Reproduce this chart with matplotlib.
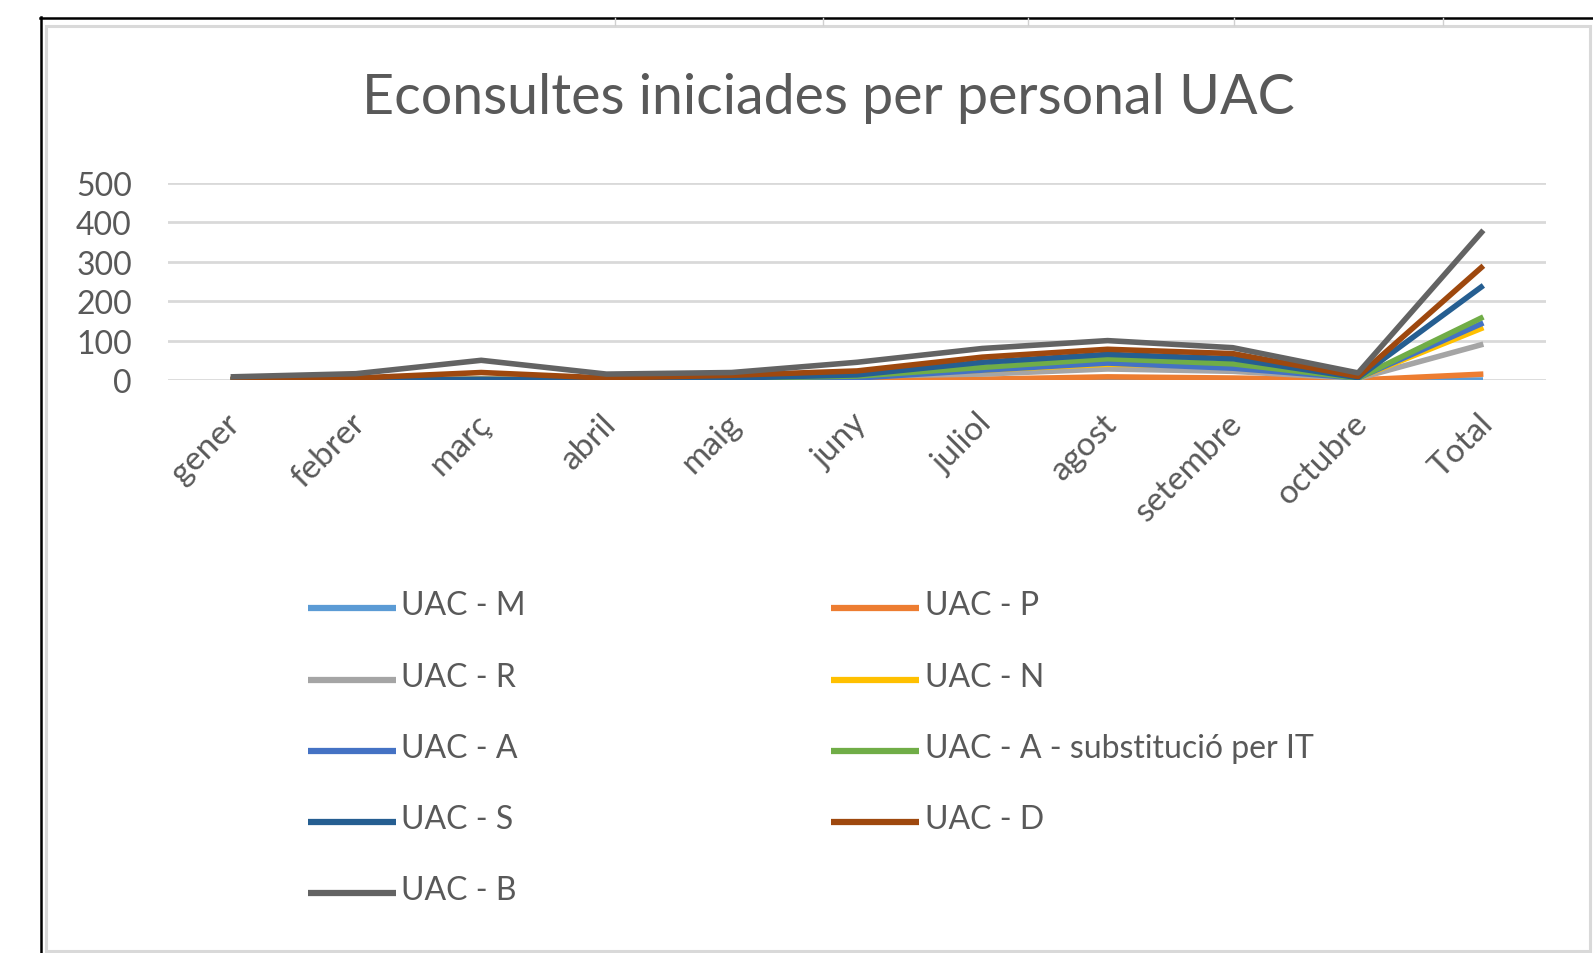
import matplotlib
matplotlib.use("Agg")
import matplotlib.pyplot as plt
from matplotlib.lines import Line2D
from matplotlib.patches import Rectangle
import matplotlib.transforms as mtransforms

# ---------------- data ----------------
months = ['gener', 'febrer', 'març', 'abril', 'maig', 'juny', 'juliol',
          'agost', 'setembre', 'octubre', 'Total']
series_names = ['UAC - M', 'UAC - P', 'UAC - R', 'UAC - N', 'UAC - A',
                'UAC - A - substitució per IT', 'UAC - S', 'UAC - D', 'UAC - B']
uac_m = [0, 0, 0, 0, 0, 0, 0, 0, 0, 0, 0]
uac_p = [0, 0, 0, 0, 0, 0, 2, 8, 5, 0, 15]
uac_r = [0, 0, 2, 0, 3, 10, 15, 28, 22, 4, 91]
uac_n = [0, 0, 2, 0, 3, 10, 25, 40, 35, 5, 133]
uac_a = [0, 0, 0, 0, 2, 5, 25, 43, 30, 5, 145]
uac_asub = [0, 0, 0, 0, 5, 10, 32, 54, 41, 5, 160]
uac_s = [0, 0, 2, 0, 5, 13, 45, 65, 54, 6, 240]
uac_d = [3, 5, 19, 5, 12, 23, 58, 78, 67, 9, 290]
uac_b = [8, 16, 50, 15, 19, 45, 80, 100, 82, 18, 380]
series_values = [uac_m, uac_p, uac_r, uac_n, uac_a, uac_asub, uac_s, uac_d, uac_b]
colors = ['#5B9BD5', '#ED7D31', '#A5A5A5', '#FFC000', '#4472C4',
          '#70AD47', '#255E91', '#9E480E', '#636363']
yticks = [0, 100, 200, 300, 400, 500]
title = 'Econsultes iniciades per personal UAC'

# ---------------- figure ----------------
W, H = 1593, 954
DPI = 100
plt.rcParams['font.family'] = ['Lato', 'DejaVu Sans']
fig = plt.figure(figsize=(W / DPI, H / DPI), dpi=DPI)
fig.patch.set_facecolor('white')

def fx(px):
    return px / W

def fy(py):
    return 1 - py / H

TXT = '#595959'

# spreadsheet frame
fig.add_artist(Line2D([fx(40), fx(W)], [fy(18.5), fy(18.5)], color='black', lw=1.8))
fig.add_artist(Line2D([fx(41), fx(41)], [fy(18), fy(H)], color='black', lw=1.8))
for cx in [615, 823, 1028, 1234, 1443]:
    fig.add_artist(Line2D([fx(cx), fx(cx)], [fy(19), fy(26)], color='#D0D0D0', lw=1))
fig.add_artist(Rectangle((fx(46), fy(952)), fx(1590) - fx(46), fy(27) - fy(952),
                         transform=fig.transFigure, fill=False, edgecolor='#D9D9D9', lw=2.2))

# ---------------- axes ----------------
left, right, top, bottom = 168, 1546, 184, 381
ax = fig.add_axes([fx(left), fy(bottom), fx(right) - fx(left), fy(top) - fy(bottom)])
x = list(range(len(months)))
for vals, c, name in zip(series_values, colors, series_names):
    ax.plot(x, vals, color=c, lw=4.0, solid_capstyle='butt', solid_joinstyle='round',
            label=name, zorder=3)

ax.set_xlim(-0.5, len(months) - 0.5)
ax.set_ylim(0, 500)
ax.set_yticks(yticks)
ax.set_yticklabels([str(v) for v in yticks])
ax.grid(axis='y', color='#D9D9D9', lw=2.0, zorder=0)
ax.set_axisbelow(True)
for s in ax.spines.values():
    s.set_visible(False)
ax.tick_params(axis='both', length=0)
ax.tick_params(axis='y', pad=26, labelsize=23, labelcolor=TXT)
ax.set_xticks(x)
ax.set_xticklabels(months, rotation=45, ha='right', va='top', rotation_mode='anchor',
                   fontsize=24, color=TXT)
ax.tick_params(axis='x', pad=20)
off = mtransforms.ScaledTranslation(-6 / DPI, 0, fig.dpi_scale_trans)
for lab in ax.get_xticklabels():
    lab.set_transform(lab.get_transform() + off)

# title
fig.text(fx(828), fy(98), title, ha='center', va='center', fontsize=40, color=TXT)

# ---------------- legend (two columns, row-wise) ----------------
row_y = [606, 678, 749, 820, 891]
col_handle_x = [(308, 396), (831, 919)]
col_text_x = [401, 925]
for i, (name, c) in enumerate(zip(series_names, colors)):
    r, k = divmod(i, 2)
    y = row_y[r]
    x0, x1 = col_handle_x[k]
    fig.add_artist(Line2D([fx(x0), fx(x1)], [fy(y + 3), fy(y + 3)], color=c, lw=4.5,
                          solid_capstyle='butt'))
    fig.text(fx(col_text_x[k]), fy(y), name, ha='left', va='center', fontsize=23, color=TXT)

fig.savefig('out.png', dpi=DPI, facecolor='white')
